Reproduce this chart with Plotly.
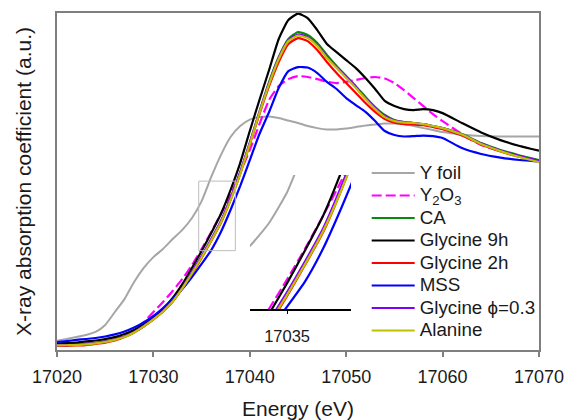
import plotly.graph_objects as go

# Photon energy grid (eV)
energy = list(range(17020, 17061)) + [17062, 17064, 17066, 17068, 17070]

# Normalised Y K-edge absorption for each sample
y_foil = [0.049, 0.058, 0.068, 0.079, 0.095, 0.132, 0.200, 0.268, 0.358, 0.432,
          0.489, 0.532, 0.584, 0.632, 0.695, 0.784, 0.911, 1.026, 1.121, 1.179,
          1.213, 1.226, 1.229, 1.221, 1.208, 1.195, 1.179, 1.168, 1.161, 1.161,
          1.166, 1.174, 1.182, 1.187, 1.192, 1.192, 1.189, 1.179, 1.168, 1.158,
          1.147, 1.134, 1.126, 1.124, 1.124, 1.124]
y2o3 = [0.026, 0.028, 0.030, 0.034, 0.039, 0.047, 0.058, 0.076, 0.105, 0.147,
        0.200, 0.253, 0.311, 0.374, 0.447, 0.532, 0.621, 0.716, 0.816, 0.932,
        1.053, 1.189, 1.316, 1.389, 1.426, 1.442, 1.437, 1.426, 1.413, 1.405,
        1.411, 1.421, 1.432, 1.437, 1.429, 1.405, 1.368, 1.326, 1.284, 1.242,
        1.205, 1.137, 1.079, 1.047, 1.021, 0.997]
ca = [0.026, 0.027, 0.029, 0.033, 0.038, 0.045, 0.055, 0.071, 0.095, 0.126,
      0.163, 0.205, 0.258, 0.326, 0.405, 0.489, 0.579, 0.674, 0.795, 0.932,
      1.089, 1.253, 1.411, 1.542, 1.637, 1.674, 1.658, 1.616, 1.553, 1.495,
      1.442, 1.389, 1.332, 1.279, 1.237, 1.211, 1.200, 1.195, 1.189, 1.179,
      1.168, 1.137, 1.089, 1.053, 1.024, 1.000]
glycine_9h = [0.034, 0.037, 0.039, 0.045, 0.050, 0.058, 0.068, 0.084, 0.105, 0.137,
              0.174, 0.216, 0.274, 0.347, 0.432, 0.521, 0.616, 0.716, 0.842, 0.984,
              1.153, 1.316, 1.474, 1.637, 1.737, 1.771, 1.747, 1.684, 1.611, 1.568,
              1.526, 1.484, 1.432, 1.374, 1.311, 1.284, 1.268, 1.263, 1.268, 1.263,
              1.247, 1.195, 1.145, 1.105, 1.074, 1.049]
glycine_2h = [0.021, 0.022, 0.024, 0.026, 0.032, 0.039, 0.050, 0.068, 0.092, 0.124,
              0.161, 0.203, 0.255, 0.324, 0.400, 0.484, 0.574, 0.668, 0.789, 0.926,
              1.082, 1.242, 1.389, 1.516, 1.611, 1.642, 1.626, 1.579, 1.516, 1.458,
              1.405, 1.353, 1.300, 1.253, 1.216, 1.197, 1.189, 1.187, 1.184, 1.174,
              1.163, 1.129, 1.082, 1.045, 1.016, 0.995]
mss = [0.042, 0.047, 0.053, 0.058, 0.063, 0.071, 0.082, 0.097, 0.118, 0.145,
       0.179, 0.221, 0.268, 0.321, 0.384, 0.453, 0.526, 0.621, 0.737, 0.863,
       1.000, 1.137, 1.253, 1.379, 1.468, 1.489, 1.487, 1.458, 1.411, 1.374,
       1.326, 1.289, 1.253, 1.205, 1.153, 1.132, 1.124, 1.126, 1.129, 1.126,
       1.116, 1.063, 1.032, 1.013, 1.000, 0.991]
glycine_phi = [0.025, 0.026, 0.028, 0.032, 0.037, 0.044, 0.054, 0.070, 0.094, 0.125,
               0.162, 0.204, 0.257, 0.326, 0.411, 0.495, 0.584, 0.679, 0.800, 0.937,
               1.092, 1.253, 1.405, 1.537, 1.632, 1.661, 1.647, 1.605, 1.542, 1.489,
               1.437, 1.384, 1.326, 1.274, 1.232, 1.208, 1.200, 1.195, 1.189, 1.179,
               1.168, 1.134, 1.087, 1.050, 1.021, 0.995]
alanine = [0.024, 0.025, 0.026, 0.030, 0.035, 0.042, 0.053, 0.068, 0.092, 0.124,
           0.161, 0.203, 0.255, 0.324, 0.403, 0.487, 0.576, 0.671, 0.789, 0.926,
           1.084, 1.247, 1.400, 1.532, 1.626, 1.655, 1.642, 1.600, 1.537, 1.484,
           1.432, 1.379, 1.321, 1.268, 1.226, 1.205, 1.197, 1.195, 1.189, 1.179,
           1.168, 1.134, 1.084, 1.047, 1.016, 0.989]

series = [
    ("Y foil", y_foil, "#a6a6a6", "solid"),
    ("Y<sub>2</sub>O<sub>3</sub>", y2o3, "#ff00ff", "10px,4px"),
    ("CA", ca, "#0a8a0a", "solid"),
    ("Glycine 9h", glycine_9h, "#000000", "solid"),
    ("Glycine 2h", glycine_2h, "#ff0000", "solid"),
    ("MSS", mss, "#0000ff", "solid"),
    ("Glycine \u03d5=0.3", glycine_phi, "#8000ff", "solid"),
    ("Alanine", alanine, "#c0c000", "solid"),
]

x_ticks = [17020, 17030, 17040, 17050, 17060, 17070]
x_range = [17020, 17070]
y_range = [0, 1.774]

# Magnified view of the absorption edge
inset_x_range = [17032.94, 17038.55]
inset_y_range = [0.446, 0.834]
inset_ticks = [17035]
# Frame marking the edge region in the main panel
edge_box_x = [17034.7, 17038.5]
edge_box_y = [0.523, 0.889]

FONT = "Liberation Sans, Arial, sans-serif"
TXT = "#1a1a1a"


def line_style(color, dash):
    return dict(color=color, width=2 if color == "#a6a6a6" else 2.2, dash=dash,
                shape="spline", smoothing=0.5)


fig = go.Figure()
for name, vals, color, dash in series:
    fig.add_trace(go.Scatter(
        x=energy, y=vals, mode="lines",
        name=f'<span style="font-size:18.8px">{name}</span>',
        line=line_style(color, dash), xaxis="x", yaxis="y"))
for name, vals, color, dash in series:
    fig.add_trace(go.Scatter(
        x=energy, y=vals, mode="lines", showlegend=False, hoverinfo="skip",
        line=line_style(color, dash), xaxis="x2", yaxis="y2"))

fig.add_shape(type="rect", xref="x", yref="y",
              x0=edge_box_x[0], x1=edge_box_x[1], y0=edge_box_y[0], y1=edge_box_y[1],
              line=dict(color="#bdbdbd", width=1))

fig.update_layout(
    width=566, height=420,
    margin=dict(l=57, r=27, t=13, b=70, autoexpand=False),
    paper_bgcolor="white", plot_bgcolor="white",
    font=dict(family=FONT, color=TXT, size=18),
    xaxis=dict(range=x_range, domain=[0, 1], tickvals=x_ticks, tickformat="d",
               ticks="outside", ticklen=5, tickwidth=1.5, tickcolor="#7f7f7f",
               showline=True, linecolor="#7f7f7f", linewidth=1.5, mirror=True,
               showgrid=False, zeroline=False, automargin=False,
               tickfont=dict(size=18, color=TXT), ticklabelstandoff=5,
               title=dict(text="Energy (eV)", font=dict(size=21, color=TXT), standoff=16)),
    yaxis=dict(range=y_range, domain=[0, 1], showticklabels=False, ticks="",
               showline=True, linecolor="#7f7f7f", linewidth=1.5, mirror=True,
               showgrid=False, zeroline=False, automargin=False,
               title=dict(text="X-ray absorption coefficient (a.u.)",
                          font=dict(size=21, color=TXT), standoff=18)),
    xaxis2=dict(domain=[0.4004, 0.6100], anchor="y2", range=inset_x_range,
                showline=True, linecolor="black", linewidth=2, ticks="outside",
                ticklen=3, tickcolor="black", tickvals=inset_ticks, tickformat="d",
                tickfont=dict(size=16.5, color=TXT), automargin=False,
                showgrid=False, zeroline=False, ticklabelstandoff=8),
    yaxis2=dict(domain=[0.1217, 0.5193], anchor="x2", range=inset_y_range,
                visible=False, automargin=False),
    legend=dict(x=0.6425, y=0.5734, xanchor="left", yanchor="top",
                bgcolor="rgba(0,0,0,0)", borderwidth=0, itemwidth=43,
                font=dict(size=15, color=TXT), traceorder="normal"),
)

fig.write_html("out.html")
